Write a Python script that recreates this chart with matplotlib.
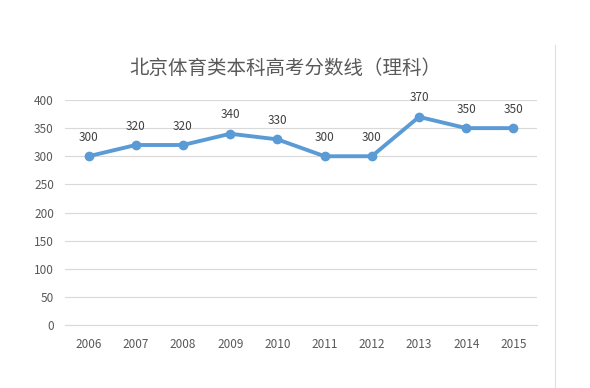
import matplotlib.pyplot as plt
import matplotlib.lines as mlines

plt.rcParams['font.family'] = ['Noto Sans CJK SC', 'DejaVu Sans']

years = ['2006', '2007', '2008', '2009', '2010', '2011', '2012', '2013', '2014', '2015']
scores = [300, 320, 320, 340, 330, 300, 300, 370, 350, 350]
yticks = [0, 50, 100, 150, 200, 250, 300, 350, 400]

fig = plt.figure(figsize=(5.9, 3.88), dpi=100)
ax = fig.add_axes([65/590, 63/388, 472/590, 225/388])

x = list(range(len(years)))
ax.plot(x, scores, color='#5B9BD5', lw=2.8, marker='o', ms=6, zorder=3)
for xi, v in zip(x, scores):
    ax.annotate(str(v), (xi, v), xytext=(0, 9), textcoords='offset points',
                ha='center', va='bottom', fontsize=8.5, color='#404040')

ax.set_xlim(-0.5, len(years) - 0.5)
ax.set_ylim(0, 400)
ax.set_yticks(yticks)
ax.set_xticks(x)
ax.set_xticklabels(years)
ax.grid(axis='y', color='#D9D9D9', lw=0.8)
ax.set_axisbelow(True)
for s in ['top', 'right', 'left']:
    ax.spines[s].set_visible(False)
ax.spines['bottom'].set_color('#D9D9D9')
ax.tick_params(length=0, labelsize=8.5, colors='#595959')
ax.tick_params(axis='x', pad=9)
ax.tick_params(axis='y', pad=8)

fig.text(285/590, 1 - 68/388, '北京体育类本科高考分数线（理科）', ha='center', va='center',
         fontsize=14, color='#595959')

# light border line on the right edge
fig.add_artist(mlines.Line2D([555/590, 555/590], [0, 1 - 45/388], color='#E0E0E0', lw=0.8))

fig.savefig('out.png', dpi=100)
